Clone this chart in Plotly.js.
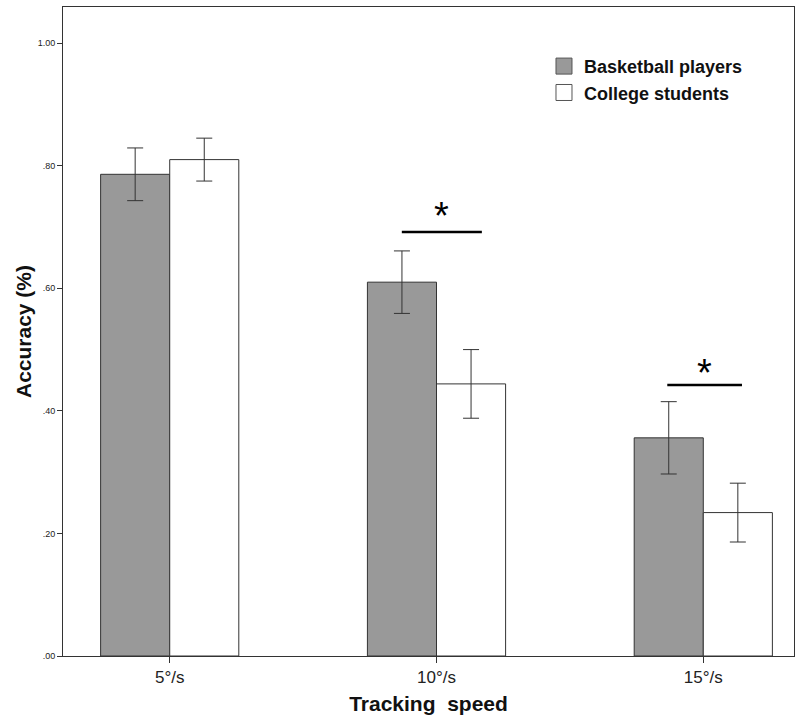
<!DOCTYPE html>
<html>
<head>
<meta charset="utf-8">
<script src="https://cdn.plot.ly/plotly-3.0.1.min.js"></script>
<style>html,body{margin:0;padding:0;background:#fff;}#chart{width:796px;height:715px;}</style>
</head>
<body>
<div id="chart"></div>
<script>
const categories = ["5°/s", "10°/s", "15°/s"];
const seriesNames = ["Basketball players", "College students"];
const basketball = [0.786, 0.610, 0.356];
const basketballErr = [0.043, 0.051, 0.059];
const college = [0.810, 0.444, 0.234];
const collegeErr = [0.035, 0.056, 0.048];
const yTickVals = [0, 0.2, 0.4, 0.6, 0.8, 1.0];
const yTickText = [".00", ".20", ".40", ".60", ".80", "1.00"];
// significance markers: category index, line level, star level, line extent
const sigIndex = [1, 2];
const sigLineY = [0.692, 0.442];
const sigStarY = [0.718, 0.462];
const sigLeft = [-0.13, -0.135];
const sigRight = [0.17, 0.145];
const sigStarDx = [0.02, 0.003];

const x = [0, 1, 2];
const edge = '#333333';
const fills = ['#999999', '#ffffff'];
const traces = [
  {
    type: 'bar', name: seriesNames[0], x: x, y: basketball, showlegend: false,
    marker: {color: fills[0], line: {color: edge, width: 1}},
    error_y: {type: 'data', array: basketballErr, visible: true, color: '#333333', thickness: 1, width: 8}
  },
  {
    type: 'bar', name: seriesNames[1], x: x, y: college, showlegend: false,
    marker: {color: fills[1], line: {color: edge, width: 1}},
    error_y: {type: 'data', array: collegeErr, visible: true, color: '#333333', thickness: 1, width: 8}
  }
];
// legend entries with larger square swatches
seriesNames.forEach((n, i) => traces.push({
  type: 'scatter', mode: 'markers', name: n, x: [null], y: [null],
  marker: {symbol: 'square', size: 16, color: fills[i], line: {color: '#555', width: 1}}
}));

const shapes = sigIndex.map((c, i) => ({
  type: 'line', xref: 'x', yref: 'y',
  x0: c + sigLeft[i], x1: c + sigRight[i], y0: sigLineY[i], y1: sigLineY[i],
  line: {color: '#000000', width: 2.5}
}));
const annotations = sigIndex.map((c, i) => ({
  xref: 'x', yref: 'y', x: c + sigStarDx[i], y: sigStarY[i], text: '*', showarrow: false,
  font: {family: 'Arial, Liberation Sans, sans-serif', size: 38, color: '#000'}
}));

const layout = {
  width: 796, height: 715,
  margin: {l: 63, r: 2, t: 7, b: 59},
  paper_bgcolor: '#ffffff', plot_bgcolor: '#ffffff',
  barmode: 'group', bargap: 0.482, bargroupgap: 0,
  font: {family: 'Arial, Liberation Sans, sans-serif', color: '#000'},
  xaxis: {
    range: [-0.4, 2.34], tickvals: x, ticktext: categories,
    ticks: 'outside', ticklen: 6, tickcolor: '#333', tickwidth: 1,
    showline: true, linecolor: '#333', linewidth: 1, mirror: true,
    showgrid: false, zeroline: false,
    tickfont: {size: 17, color: '#222'},
    title: {text: 'Tracking  speed', font: {size: 21, weight: 'bold', color: '#111'}, standoff: 10}
  },
  yaxis: {
    range: [0, 1.059], tickvals: yTickVals, ticktext: yTickText,
    ticks: 'outside', ticklen: 5, tickcolor: '#333', tickwidth: 1,
    showline: true, linecolor: '#333', linewidth: 1, mirror: true,
    showgrid: false, zeroline: false,
    tickfont: {size: 9, color: '#222'},
    title: {text: 'Accuracy (%)', font: {size: 21, weight: 'bold', color: '#111'}, standoff: 0}
  },
  legend: {
    x: 0.658, y: 0.937, xanchor: 'left', yanchor: 'top',
    bgcolor: 'rgba(0,0,0,0)', borderwidth: 0, tracegroupgap: 0,
    font: {size: 18, weight: 'bold', color: '#111'}
  },
  showlegend: true,
  shapes: shapes,
  annotations: annotations
};

Plotly.newPlot('chart', traces, layout, {displayModeBar: false, staticPlot: true});
</script>
</body>
</html>
